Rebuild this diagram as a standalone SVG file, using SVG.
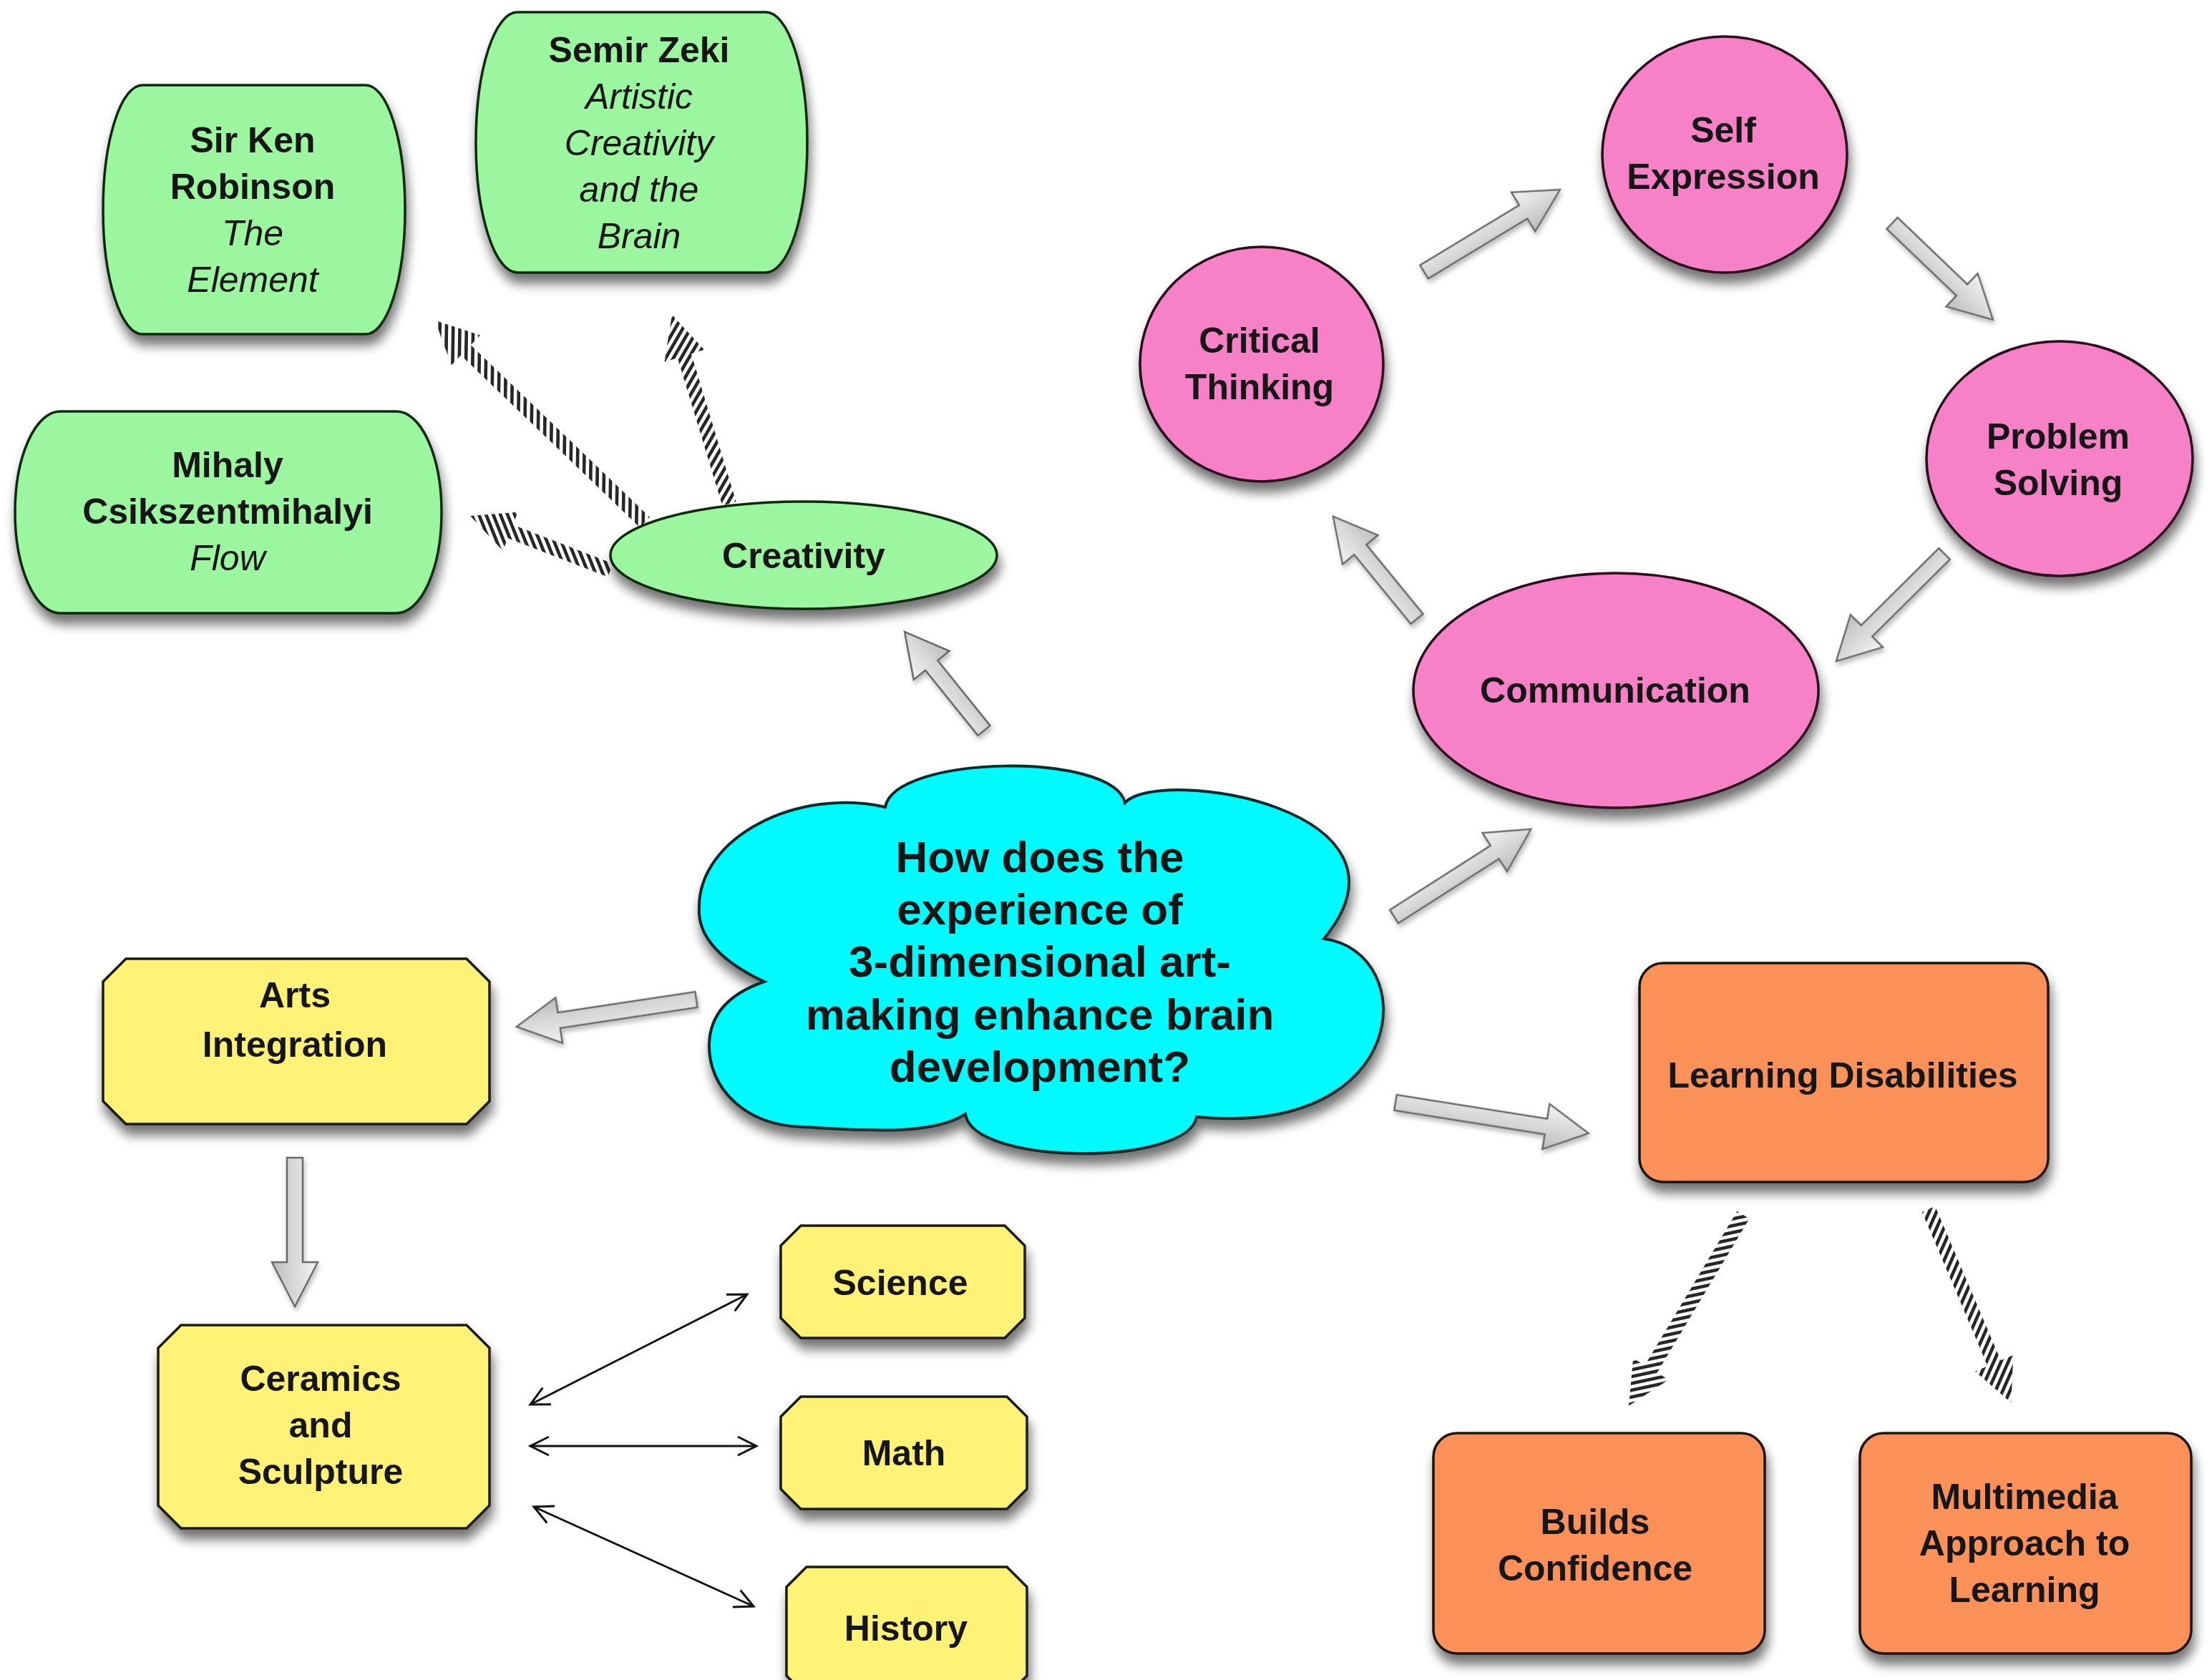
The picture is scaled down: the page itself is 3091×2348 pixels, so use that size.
<svg xmlns="http://www.w3.org/2000/svg" width="3091" height="2348" viewBox="0 0 3091 2348">
  <defs>
    <style>
      .t { font-family: "Liberation Sans", Arial, sans-serif; font-weight: bold; font-size: 50px; text-anchor: middle; fill: #151515; }
      .it { font-weight: normal; font-style: italic; }
      .q { font-size: 62px; }
      .green { fill: #9cf6a0; stroke: #102a10; stroke-width: 3.5; }
      .pink { fill: #f781c6; stroke: #2a0a1c; stroke-width: 3.5; }
      .yellow { fill: #fff276; stroke: #1a1a10; stroke-width: 3.5; }
      .orange { fill: #f99159; stroke: #1e120a; stroke-width: 3.5; }
      .cloud { fill: #00fbff; stroke: #0c2a2c; stroke-width: 4; }
      .hollow { fill: url(#shaftFill); stroke: #6a6a6a; stroke-width: 2.5; stroke-linejoin: miter; }
      .hatched { fill: url(#hatch); }
      .thin { fill: none; stroke: #111; stroke-width: 3; marker-start: url(#vee); marker-end: url(#vee); }
    </style>
    <filter id="shadow" x="-15%" y="-15%" width="135%" height="145%">
      <feGaussianBlur in="SourceAlpha" stdDeviation="8"/>
      <feOffset dx="3" dy="14"/>
      <feComponentTransfer><feFuncA type="linear" slope="0.55"/></feComponentTransfer>
      <feMerge><feMergeNode/><feMergeNode in="SourceGraphic"/></feMerge>
    </filter>
    <filter id="softShadow" x="-20%" y="-40%" width="140%" height="180%">
      <feGaussianBlur in="SourceAlpha" stdDeviation="3"/>
      <feOffset dx="2" dy="5"/>
      <feComponentTransfer><feFuncA type="linear" slope="0.25"/></feComponentTransfer>
      <feMerge><feMergeNode/><feMergeNode in="SourceGraphic"/></feMerge>
    </filter>
    <linearGradient id="shaftFill" x1="0" y1="0" x2="0" y2="1">
      <stop offset="0" stop-color="#f2f2f2"/>
      <stop offset="0.5" stop-color="#d9d9d9"/>
      <stop offset="1" stop-color="#bdbdbd"/>
    </linearGradient>
    <pattern id="hatch" patternUnits="userSpaceOnUse" width="9.3" height="12" patternTransform="rotate(-43)">
      <rect x="0" y="0" width="4.6" height="12" fill="#262626"/>
    </pattern>
    <marker id="vee" viewBox="-30 -16 34 32" refX="0" refY="0" markerWidth="34" markerHeight="32" markerUnits="userSpaceOnUse" orient="auto-start-reverse">
      <path d="M-26,-13 L0,0 L-26,13" fill="none" stroke="#111" stroke-width="3"/>
    </marker>
  </defs>

  <rect width="3091" height="2348" fill="#ffffff"/>

  <!-- connectors -->
  <g id="connectors">
    <!-- hatched arrows from Creativity and Learning Disabilities -->
    <g transform="translate(901,730) rotate(-136.1)"><polygon class="hatched" points="0,-10 347,-10 347,-29 407,0 347,29 347,10 0,10"/></g>
    <g transform="translate(1019,704) rotate(-106.86)"><polygon class="hatched" points="0,-10 216,-10 216,-29 276,0 216,29 216,10 0,10"/></g>
    <g transform="translate(853,797) rotate(-158.8)"><polygon class="hatched" points="0,-10 150,-10 150,-29 210,0 150,29 150,10 0,10"/></g>
    <g transform="translate(2436,1698) rotate(120.93)"><polygon class="hatched" points="0,-10 251,-10 251,-29 311,0 251,29 251,10 0,10"/></g>
    <g transform="translate(2695,1690) rotate(66.93)"><polygon class="hatched" points="0,-10 234,-10 234,-29 294,0 234,29 234,10 0,10"/></g>

    <!-- block arrows -->
    <g filter="url(#softShadow)">
      <g transform="translate(1375,1021) rotate(-128.8)"><polygon class="hollow" points="0,-11 117,-11 117,-32 177,0 117,32 117,11 0,11"/></g>
      <g transform="translate(973,1397) rotate(171.4)"><polygon class="hollow" points="0,-11 194,-11 194,-32 254,0 194,32 194,11 0,11"/></g>
      <g transform="translate(412,1618) rotate(90)"><polygon class="hollow" points="0,-11 146,-11 146,-32 208,0 146,32 146,11 0,11"/></g>
      <g transform="translate(1948,1281) rotate(-32.57)"><polygon class="hollow" points="0,-11 167,-11 167,-32 227,0 167,32 167,11 0,11"/></g>
      <g transform="translate(1950,1541) rotate(9.05)"><polygon class="hollow" points="0,-11 213,-11 213,-32 273,0 213,32 213,11 0,11"/></g>
      <g transform="translate(1990,380) rotate(-31.18)"><polygon class="hollow" points="0,-11 162,-11 162,-32 222,0 162,32 162,11 0,11"/></g>
      <g transform="translate(2644,312) rotate(43.75)"><polygon class="hollow" points="0,-11 135,-11 135,-32 195,0 135,32 135,11 0,11"/></g>
      <g transform="translate(2717,774) rotate(135.19)"><polygon class="hollow" points="0,-11 153,-11 153,-32 213,0 153,32 153,11 0,11"/></g>
      <g transform="translate(1980,865) rotate(-129.29)"><polygon class="hollow" points="0,-11 125,-11 125,-32 185,0 125,32 125,11 0,11"/></g>
    </g>

    <!-- two-way links from Ceramics and Sculpture -->
    <line class="thin" x1="741" y1="1963" x2="1044" y2="1809"/>
    <line class="thin" x1="741" y1="2021" x2="1057" y2="2021"/>
    <line class="thin" x1="746" y1="2106" x2="1053" y2="2245"/>
  </g>

  <!-- central question -->
  <g id="question" filter="url(#shadow)">
    <path class="cloud" d="M1237,1128 C1250,1055 1555,1050 1572,1122 C1620,1070 2000,1130 1850,1312 C1985,1330 1975,1590 1672,1561 C1660,1630 1360,1630 1349,1557 C1300,1590 1190,1578 1120,1575 C1040,1572 990,1520 991,1460 C992,1410 1030,1385 1068,1372 C1010,1345 975,1310 977,1270 C975,1170 1115,1100 1237,1128 Z"/>
    <text class="t q" x="1453" y="1219">How does the</text>
    <text class="t q" x="1453" y="1292">experience of</text>
    <text class="t q" x="1453" y="1365">3-dimensional art-</text>
    <text class="t q" x="1453" y="1439">making enhance brain</text>
    <text class="t q" x="1453" y="1512">development?</text>
  </g>

  <!-- creativity branch -->
  <g id="creativity" filter="url(#shadow)">
    <ellipse class="green" cx="1123" cy="776" rx="270" ry="75"/>
    <text class="t" x="1123" y="794">Creativity</text>
  </g>
  <g id="robinson" filter="url(#shadow)">
    <rect class="green" x="144" y="119" width="422" height="348" rx="55" ry="174"/>
    <text class="t" x="353" y="213">Sir Ken</text>
    <text class="t" x="353" y="278">Robinson</text>
    <text class="t it" x="353" y="343">The</text>
    <text class="t it" x="353" y="408">Element</text>
  </g>
  <g id="zeki" filter="url(#shadow)">
    <rect class="green" x="665" y="17" width="463" height="364" rx="58" ry="182"/>
    <text class="t" x="893" y="87">Semir Zeki</text>
    <text class="t it" x="893" y="152">Artistic</text>
    <text class="t it" x="893" y="217">Creativity</text>
    <text class="t it" x="893" y="282">and the</text>
    <text class="t it" x="893" y="347">Brain</text>
  </g>
  <g id="csikszentmihalyi" filter="url(#shadow)">
    <rect class="green" x="21" y="575" width="596" height="282" rx="63" ry="141"/>
    <text class="t" x="318" y="667">Mihaly</text>
    <text class="t" x="318" y="732">Csikszentmihalyi</text>
    <text class="t it" x="318" y="797">Flow</text>
  </g>

  <!-- skills cycle -->
  <g id="self-expression" filter="url(#shadow)">
    <ellipse class="pink" cx="2410" cy="216" rx="171" ry="165"/>
    <text class="t" x="2408" y="199">Self</text>
    <text class="t" x="2408" y="264">Expression</text>
  </g>
  <g id="critical-thinking" filter="url(#shadow)">
    <ellipse class="pink" cx="1763" cy="509" rx="170" ry="164"/>
    <text class="t" x="1760" y="493">Critical</text>
    <text class="t" x="1760" y="558">Thinking</text>
  </g>
  <g id="problem-solving" filter="url(#shadow)">
    <ellipse class="pink" cx="2878" cy="641" rx="186" ry="164"/>
    <text class="t" x="2876" y="627">Problem</text>
    <text class="t" x="2876" y="692">Solving</text>
  </g>
  <g id="communication" filter="url(#shadow)">
    <ellipse class="pink" cx="2258" cy="965" rx="283" ry="164"/>
    <text class="t" x="2257" y="982">Communication</text>
  </g>

  <!-- arts integration branch -->
  <g id="arts-integration" filter="url(#shadow)">
    <path class="yellow" d="M176,1340 H652 L684,1372 V1539 L652,1571 H176 L144,1539 V1372 Z"/>
    <text class="t" x="412" y="1408">Arts</text>
    <text class="t" x="412" y="1477">Integration</text>
  </g>
  <g id="ceramics" filter="url(#shadow)">
    <path class="yellow" d="M253,1852 H652 L684,1884 V2104 L652,2136 H253 L221,2104 V1884 Z"/>
    <text class="t" x="448" y="1944">Ceramics</text>
    <text class="t" x="448" y="2009">and</text>
    <text class="t" x="448" y="2074">Sculpture</text>
  </g>
  <g id="science" filter="url(#shadow)">
    <path class="yellow" d="M1119,1713 H1404 L1432,1741 V1842 L1404,1870 H1119 L1091,1842 V1741 Z"/>
    <text class="t" x="1258" y="1810">Science</text>
  </g>
  <g id="math" filter="url(#shadow)">
    <path class="yellow" d="M1119,1952 H1407 L1435,1980 V2081 L1407,2109 H1119 L1091,2081 V1980 Z"/>
    <text class="t" x="1263" y="2048">Math</text>
  </g>
  <g id="history" filter="url(#shadow)">
    <path class="yellow" d="M1127,2190 H1407 L1435,2218 V2342 L1407,2370 H1127 L1099,2342 V2218 Z"/>
    <text class="t" x="1266" y="2293">History</text>
  </g>

  <!-- learning disabilities branch -->
  <g id="learning-disabilities" filter="url(#shadow)">
    <rect class="orange" x="2291" y="1346" width="571" height="306" rx="33"/>
    <text class="t" x="2575" y="1520">Learning Disabilities</text>
  </g>
  <g id="builds-confidence" filter="url(#shadow)">
    <rect class="orange" x="2003" y="2003" width="463" height="308" rx="33"/>
    <text class="t" x="2229" y="2144">Builds</text>
    <text class="t" x="2229" y="2209">Confidence</text>
  </g>
  <g id="multimedia" filter="url(#shadow)">
    <rect class="orange" x="2599" y="2003" width="463" height="308" rx="33"/>
    <text class="t" x="2829" y="2109">Multimedia</text>
    <text class="t" x="2829" y="2174">Approach to</text>
    <text class="t" x="2829" y="2239">Learning</text>
  </g>
</svg>
